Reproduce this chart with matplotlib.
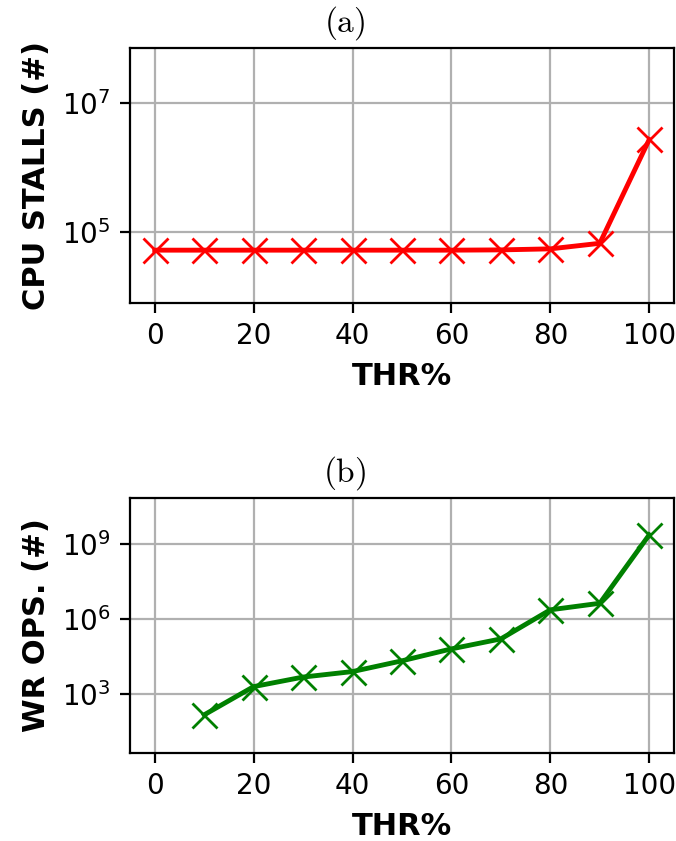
import numpy as np
import matplotlib
matplotlib.use('Agg')
import matplotlib.pyplot as plt

# values
thr = [0, 10, 20, 30, 40, 50, 60, 70, 80, 90, 100]
cpu_stalls = [52500, 52500, 52500, 52500, 52500, 52500, 52500, 53000, 55000, 67000, 2.7e6]
wr_ops = [np.nan, 145, 1950, 4700, 7800, 21000, 63000, 158000, 2.3e6, 4.2e6, 2.3e9]

plt.rcParams['font.size'] = 10

fig = plt.figure(figsize=(3.38, 4.205), dpi=200)
ax1 = fig.add_axes([0.1923, 0.6397, 0.8047, 0.3032])
ax2 = fig.add_axes([0.1923, 0.1046, 0.8047, 0.3032])


def panel(ax, y, color, ylabel, title, ylim, yticks):
    ax.plot(thr, y, color=color, marker='x', markersize=9, linewidth=1.75)
    ax.set_yscale('log')
    ax.set_ylim(ylim)
    ax.set_yticks(yticks)
    ax.minorticks_off()
    ax.set_xlim(-5, 105)
    ax.set_xticks([0, 20, 40, 60, 80, 100])
    ax.grid(True)
    ax.set_axisbelow(True)
    ax.set_xlabel('THR%', fontweight='bold', fontsize=11)
    ax.set_ylabel(ylabel, fontweight='bold', fontsize=11)
    ax.set_title(title, math_fontfamily='cm', x=0.395)


panel(ax1, cpu_stalls, 'red', 'CPU STALLS (#)', r'$\mathrm{(a)}$', (8e3, 7e7), [1e5, 1e7])
panel(ax2, wr_ops, 'green', 'WR OPS. (#)', r'$\mathrm{(b)}$', (4.3, 6.8e10), [1e3, 1e6, 1e9])

fig.savefig('out.png', dpi=200)
